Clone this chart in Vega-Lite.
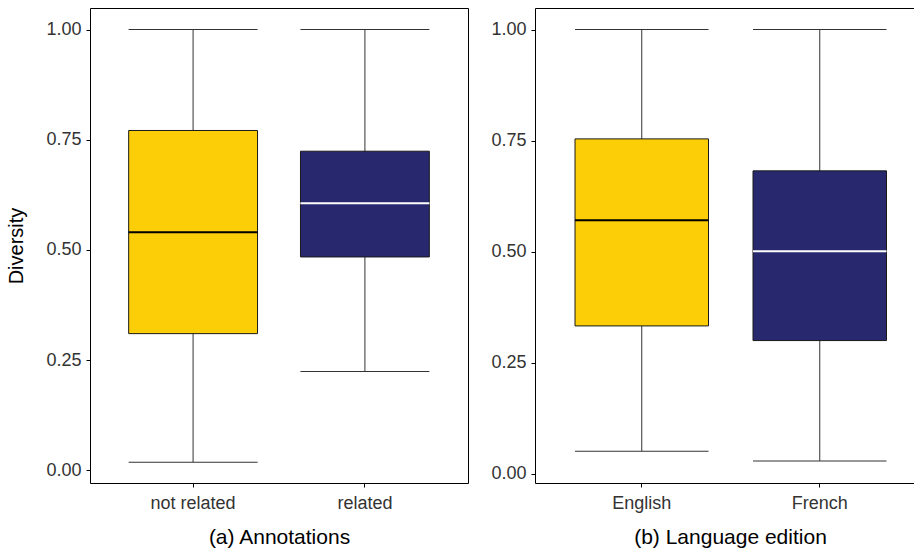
{
  "$schema": "https://vega.github.io/schema/vega-lite/v6.json",
  "padding": {"left": 6, "top": 7, "right": 0, "bottom": 0},
  "autosize": {"type": "pad"},
  "spacing": 21,
  "config": {
    "font": "Liberation Sans",
    "view": {"stroke": "#000000", "strokeWidth": 1},
    "axis": {
      "grid": false,
      "domain": false,
      "tickColor": "#000000",
      "tickSize": 4,
      "labelFontSize": 18,
      "labelColor": "#333333",
      "titleFontSize": 20,
      "titleFontWeight": "normal",
      "titleColor": "#000000",
      "labelFont": "Liberation Sans",
      "titleFont": "Liberation Sans"
    }
  },
  "datasets": {
    "annot": [
      {"group": "not related", "min": 0.018, "q1": 0.31, "median": 0.54, "q3": 0.771, "max": 1.0},
      {"group": "related", "min": 0.224, "q1": 0.484, "median": 0.606, "q3": 0.724, "max": 1.0}
    ],
    "lang": [
      {"group": "English", "min": 0.051, "q1": 0.333, "median": 0.571, "q3": 0.754, "max": 1.0},
      {"group": "French", "min": 0.029, "q1": 0.3, "median": 0.501, "q3": 0.682, "max": 1.0}
    ]
  },
  "hconcat": [
    {
      "width": 378,
      "height": 475,
      "data": {"name": "annot"},
      "encoding": {
        "x": {
          "field": "group",
          "type": "nominal",
          "sort": null,
          "scale": {"paddingInner": 0.25, "paddingOuter": 0.225},
          "axis": {"title": "(a) Annotations", "labelAngle": 0, "labelPadding": 7, "titlePadding": 14, "titleFontSize": 21}
        }
      },
      "layer": [
        {
          "mark": {"type": "rule", "color": "#333333", "strokeWidth": 1},
          "encoding": {
            "y": {
              "field": "min",
              "type": "quantitative",
              "scale": {"domain": [-0.029, 1.049], "nice": false, "zero": false},
              "axis": {"title": "Diversity", "values": [0, 0.25, 0.5, 0.75, 1], "format": ".2f", "labelPadding": 5, "titlePadding": 19}
            },
            "y2": {"field": "max"}
          }
        },
        {
          "mark": {"type": "bar", "stroke": "#1a1a1a", "strokeWidth": 1},
          "encoding": {
            "y": {"field": "q1", "type": "quantitative"},
            "y2": {"field": "q3"},
            "color": {"field": "group", "type": "nominal", "scale": {"domain": ["not related", "related"], "range": ["#FCCE07", "#27286E"]}, "legend": null}
          }
        },
        {
          "mark": {"type": "tick", "thickness": 2, "size": 129, "opacity": 1},
          "encoding": {
            "y": {"field": "median", "type": "quantitative"},
            "color": {"condition": {"test": "datum.group === 'related'", "value": "#ffffff"}, "value": "#000000"}
          }
        },
        {
          "mark": {"type": "tick", "thickness": 1, "size": 129, "color": "#333333", "opacity": 1},
          "encoding": {"y": {"field": "min", "type": "quantitative"}}
        },
        {
          "mark": {"type": "tick", "thickness": 1, "size": 129, "color": "#333333", "opacity": 1},
          "encoding": {"y": {"field": "max", "type": "quantitative"}}
        }
      ]
    },
    {
      "width": 380,
      "height": 475,
      "data": {"name": "lang"},
      "encoding": {
        "x": {
          "field": "group",
          "type": "nominal",
          "sort": null,
          "scale": {"paddingInner": 0.25, "paddingOuter": 0.1924, "align": 0.584},
          "axis": {"title": "(b) Language edition", "labelAngle": 0, "labelPadding": 7, "titlePadding": 14, "titleFontSize": 21, "titleX": 195}
        }
      },
      "layer": [
        {
          "mark": {"type": "rule", "color": "#333333", "strokeWidth": 1},
          "encoding": {
            "y": {
              "field": "min",
              "type": "quantitative",
              "scale": {"domain": [-0.0206, 1.0486], "nice": false, "zero": false},
              "axis": {"title": null, "values": [0, 0.25, 0.5, 0.75, 1], "format": ".2f", "labelPadding": 5}
            },
            "y2": {"field": "max"}
          }
        },
        {
          "mark": {"type": "bar", "stroke": "#1a1a1a", "strokeWidth": 1},
          "encoding": {
            "y": {"field": "q1", "type": "quantitative"},
            "y2": {"field": "q3"},
            "color": {"field": "group", "type": "nominal", "scale": {"domain": ["English", "French"], "range": ["#FCCE07", "#27286E"]}, "legend": null}
          }
        },
        {
          "mark": {"type": "tick", "thickness": 2, "size": 133.5, "opacity": 1},
          "encoding": {
            "y": {"field": "median", "type": "quantitative"},
            "color": {"condition": {"test": "datum.group === 'French'", "value": "#ffffff"}, "value": "#000000"}
          }
        },
        {
          "mark": {"type": "tick", "thickness": 1, "size": 133.5, "color": "#333333", "opacity": 1},
          "encoding": {"y": {"field": "min", "type": "quantitative"}}
        },
        {
          "mark": {"type": "tick", "thickness": 1, "size": 133.5, "color": "#333333", "opacity": 1},
          "encoding": {"y": {"field": "max", "type": "quantitative"}}
        }
      ]
    }
  ]
}
